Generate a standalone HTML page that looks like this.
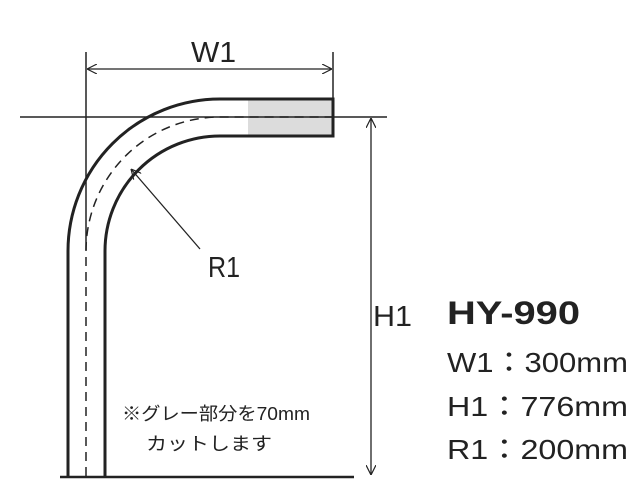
<!DOCTYPE html>
<html><head><meta charset="utf-8"><style>
html,body{margin:0;padding:0;background:#fff;}
svg{display:block}
text{font-family:"Liberation Sans","Noto Sans CJK JP",sans-serif;fill:#222}
</style></head><body>
<svg width="640" height="490" viewBox="0 0 640 490">
<defs>
<marker id="a" viewBox="0 0 10 10" refX="10" refY="5" markerWidth="10" markerHeight="10" orient="auto-start-reverse" markerUnits="userSpaceOnUse">
<path d="M0,0 L10,5 L0,10" fill="none" stroke="#222" stroke-width="1.2"/></marker>
</defs>
<rect x="248" y="100" width="84" height="35" fill="#dcdcdc"/>
<g stroke="#222" fill="none">
<line x1="20" y1="117" x2="387" y2="117" stroke-width="1.5"/>
<line x1="86" y1="52" x2="86" y2="250" stroke-width="1.5"/>
<line x1="333" y1="52" x2="333" y2="99" stroke-width="1.5"/>
<line x1="87" y1="69" x2="332" y2="69" stroke-width="1.3" marker-start="url(#a)" marker-end="url(#a)"/>
<line x1="371" y1="118" x2="371" y2="475" stroke-width="1.3" marker-start="url(#a)" marker-end="url(#a)"/>
<path d="M68,476 L68,251 A152,152 0 0 1 220,99 L333,99 L333,136 L220,136 A115,115 0 0 0 105,251 L105,476" stroke-width="3"/>
<path d="M86,476 L86,251 A134,134 0 0 1 220,117 L333,117" stroke-width="1.5" stroke-dasharray="9,6"/>
<line x1="60" y1="477" x2="354" y2="477" stroke-width="2.5"/>
<line x1="200" y1="249" x2="131" y2="169" stroke-width="1.3" marker-end="url(#a)"/>
</g>
<text x="191" y="62" font-size="29" textLength="45" lengthAdjust="spacingAndGlyphs">W1</text>
<text x="208" y="277" font-size="29" textLength="32" lengthAdjust="spacingAndGlyphs">R1</text>
<text x="373" y="326" font-size="29" textLength="39" lengthAdjust="spacingAndGlyphs">H1</text>
<text x="447" y="324" font-size="32" font-weight="bold" textLength="133" lengthAdjust="spacingAndGlyphs">HY-990</text>
<text x="447" y="372" font-size="28" textLength="181" lengthAdjust="spacingAndGlyphs">W1：300mm</text>
<text x="447" y="416" font-size="28" textLength="181" lengthAdjust="spacingAndGlyphs">H1：776mm</text>
<text x="447" y="459" font-size="28" textLength="181" lengthAdjust="spacingAndGlyphs">R1：200mm</text>
<text x="122" y="420" font-size="18" textLength="188" lengthAdjust="spacingAndGlyphs">※グレー部分を70mm</text>
<text x="146" y="450" font-size="18" textLength="126" lengthAdjust="spacingAndGlyphs">カットします</text>
</svg>
</body></html>
